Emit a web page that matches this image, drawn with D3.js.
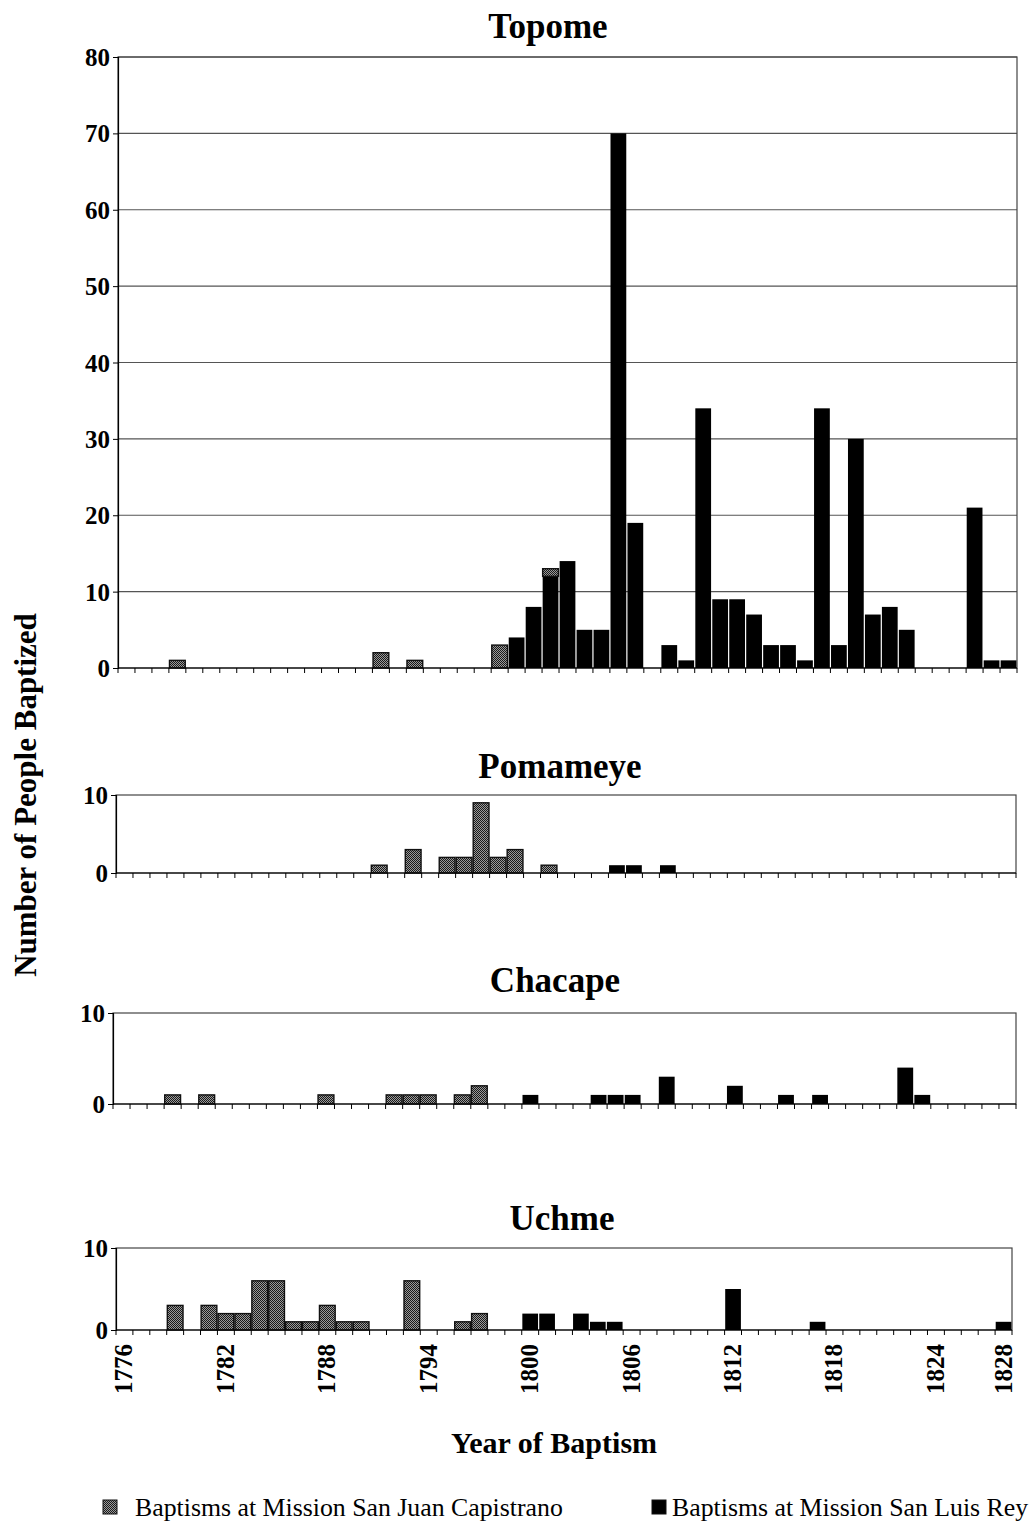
<!DOCTYPE html>
<html>
<head>
<meta charset="utf-8">
<script src="https://cdn.jsdelivr.net/npm/d3@7"></script>
<style>
  body { margin: 0; background: #fff; }
  svg text { font-family: "Liberation Serif", "Times New Roman", serif; fill: #000; }
</style>
</head>
<body>
<svg id="chart" width="1035" height="1525"></svg>
<script>
// years on the category axis
const years = [1776, 1777, 1778, 1779, 1780, 1781, 1782, 1783, 1784, 1785, 1786, 1787, 1788,
    1789, 1790, 1791, 1792, 1793, 1794, 1795, 1796, 1797, 1798, 1799, 1800, 1801, 1802, 1803,
    1804, 1805, 1806, 1807, 1808, 1809, 1810, 1811, 1812, 1813, 1814, 1815, 1816, 1817, 1818,
    1819, 1820, 1821, 1822, 1823, 1824, 1825, 1826, 1827, 1828];
const yearLabels = [1776, 1782, 1788, 1794, 1800, 1806, 1812, 1818, 1824, 1828];

// [year, baptisms] -- SJC = San Juan Capistrano (grey), SLR = San Luis Rey (black)
const topomeSJC = [[1779, 1], [1791, 2], [1793, 1], [1798, 3], [1801, 1]];
const topomeSLR = [[1799, 4], [1800, 8], [1801, 12], [1802, 14], [1803, 5], [1804, 5], [1805, 70],
    [1806, 19], [1808, 3], [1809, 1], [1810, 34], [1811, 9], [1812, 9], [1813, 7], [1814, 3],
    [1815, 3], [1816, 1], [1817, 34], [1818, 3], [1819, 30], [1820, 7], [1821, 8], [1822, 5],
    [1826, 21], [1827, 1], [1828, 1]];

const pomameyeSJC = [[1791, 1], [1793, 3], [1795, 2], [1796, 2], [1797, 9], [1798, 2], [1799, 3], [1801, 1]];
const pomameyeSLR = [[1805, 1], [1806, 1], [1808, 1]];

const chacapeSJC = [[1779, 1], [1781, 1], [1788, 1], [1792, 1], [1793, 1], [1794, 1], [1796, 1], [1797, 2]];
const chacapeSLR = [[1800, 1], [1804, 1], [1805, 1], [1806, 1], [1808, 3], [1812, 2], [1815, 1],
    [1817, 1], [1822, 4], [1823, 1]];

const uchmeSJC = [[1779, 3], [1781, 3], [1782, 2], [1783, 2], [1784, 6], [1785, 6], [1786, 1], [1787, 1],
    [1788, 3], [1789, 1], [1790, 1], [1793, 6], [1796, 1], [1797, 2]];
const uchmeSLR = [[1800, 2], [1801, 2], [1803, 2], [1804, 1], [1805, 1], [1812, 5], [1817, 1], [1828, 1]];

const topomeTicks = [0, 10, 20, 30, 40, 50, 60, 70, 80];
const smallTicks = [0, 10];

const legendLabels = ["Baptisms at Mission San Juan Capistrano", "Baptisms at Mission San Luis Rey"];

// panel layout
const panels = [
    { title: "Topome", sjc: topomeSJC, slr: topomeSLR, max: 80, ticks: topomeTicks, grid: true,
      left: 118, right: 1017, top: 57, bottom: 668, titleX: 548, titleY: 38 },
    { title: "Pomameye", sjc: pomameyeSJC, slr: pomameyeSLR, max: 10, ticks: smallTicks, grid: false,
      left: 116, right: 1016, top: 795, bottom: 873, titleX: 560, titleY: 778 },
    { title: "Chacape", sjc: chacapeSJC, slr: chacapeSLR, max: 10, ticks: smallTicks, grid: false,
      left: 113, right: 1016, top: 1013, bottom: 1104, titleX: 555, titleY: 992 },
    { title: "Uchme", sjc: uchmeSJC, slr: uchmeSLR, max: 10, ticks: smallTicks, grid: false,
      left: 116, right: 1012, top: 1248, bottom: 1330, titleX: 562, titleY: 1230 }
];

const svg = d3.select("#chart");

// stippled grey fill
const defs = svg.append("defs");
const pat = defs.append("pattern")
    .attr("id", "stipple")
    .attr("width", 2).attr("height", 2)
    .attr("patternUnits", "userSpaceOnUse");
pat.append("rect").attr("width", 2).attr("height", 2).attr("fill", "#9a9a9a");
pat.append("rect").attr("width", 1).attr("height", 1).attr("fill", "#1a1a1a");
pat.append("rect").attr("x", 1).attr("y", 1).attr("width", 1).attr("height", 1).attr("fill", "#1a1a1a");

panels.forEach((p, idx) => {

    const x = d3.scaleBand()
        .domain(years)
        .range([p.left, p.right])
        .padding(0);

    const y = d3.scaleLinear()
        .domain([0, p.max])
        .range([p.bottom, p.top]);

    const g = svg.append("g").attr("class", "panel");

    // gridlines (Topome only)
    if (p.grid) {
        g.selectAll("line.grid")
            .data(p.ticks.slice(1))
            .join("line")
            .attr("class", "grid")
            .attr("x1", p.left).attr("x2", p.right)
            .attr("y1", d => y(d)).attr("y2", d => y(d))
            .attr("stroke", "#555")
            .attr("stroke-width", 1.2);
    }

    // frame
    g.append("rect")
        .attr("x", p.left).attr("y", p.top)
        .attr("width", p.right - p.left).attr("height", p.bottom - p.top)
        .attr("fill", "none")
        .attr("stroke", "#444")
        .attr("stroke-width", 1.2);

    // stack: SLR at the bottom, SJC on top
    const slrMap = new Map(p.slr);
    const bars = [];
    p.slr.forEach(([yr, v]) => bars.push({ yr, y0: 0, y1: v, kind: "slr" }));
    p.sjc.forEach(([yr, v]) => {
        const base = slrMap.get(yr) || 0;
        bars.push({ yr, y0: base, y1: base + v, kind: "sjc" });
    });

    g.selectAll("rect.bar")
        .data(bars)
        .join("rect")
        .attr("class", "bar")
        .attr("x", d => x(d.yr) + 0.6)
        .attr("width", x.bandwidth() - 1.2)
        .attr("y", d => y(d.y1))
        .attr("height", d => y(d.y0) - y(d.y1))
        .attr("fill", d => d.kind === "slr" ? "#000" : "url(#stipple)")
        .attr("stroke", d => d.kind === "slr" ? "none" : "#111")
        .attr("stroke-width", 1.4);

    // baseline + small ticks at every band edge
    g.append("line")
        .attr("x1", p.left).attr("x2", p.right)
        .attr("y1", p.bottom).attr("y2", p.bottom)
        .attr("stroke", "#000").attr("stroke-width", 1.2);

    const edges = years.map(d => x(d)).concat([p.right]);
    g.selectAll("line.xtick")
        .data(edges)
        .join("line")
        .attr("class", "xtick")
        .attr("x1", d => d).attr("x2", d => d)
        .attr("y1", p.bottom).attr("y2", p.bottom + 5)
        .attr("stroke", "#000").attr("stroke-width", 1);

    // y axis
    const yAxis = g.append("g")
        .attr("transform", `translate(${p.left},0)`)
        .call(d3.axisLeft(y).tickValues(p.ticks).tickSize(5).tickPadding(3).tickFormat(d3.format("d")));
    yAxis.select(".domain").attr("stroke", "#000").attr("stroke-width", 1.2);
    yAxis.selectAll(".tick line").attr("stroke", "#000");
    yAxis.selectAll(".tick text")
        .attr("font-size", 25)
        .attr("font-weight", "bold")
        .attr("font-family", "Liberation Serif, serif")
        .attr("dy", "0.34em");

    // panel title
    g.append("text")
        .attr("x", p.titleX).attr("y", p.titleY)
        .attr("text-anchor", "middle")
        .attr("font-size", 35)
        .attr("font-weight", "bold")
        .text(p.title);

    // year labels under the last panel
    if (idx === panels.length - 1) {
        g.selectAll("text.xlabel")
            .data(yearLabels)
            .join("text")
            .attr("class", "xlabel")
            .attr("transform", d => `translate(${x(d) + x.bandwidth() / 2 + 8},${p.bottom + 14}) rotate(-90)`)
            .attr("text-anchor", "end")
            .attr("font-size", 25)
            .attr("font-weight", "bold")
            .text(d => d);
    }
});

// axis titles
svg.append("text")
    .attr("transform", "translate(36,795) rotate(-90)")
    .attr("text-anchor", "middle")
    .attr("font-size", 31)
    .attr("font-weight", "bold")
    .text("Number of People Baptized");

svg.append("text")
    .attr("x", 554).attr("y", 1453)
    .attr("text-anchor", "middle")
    .attr("font-size", 30)
    .attr("font-weight", "bold")
    .text("Year of Baptism");

// legend
const legend = svg.append("g").attr("class", "legend");
const legendX = [103, 652];
legend.selectAll("rect")
    .data(legendLabels)
    .join("rect")
    .attr("x", (d, i) => legendX[i])
    .attr("y", 1500)
    .attr("width", 14).attr("height", 14)
    .attr("fill", (d, i) => i === 0 ? "url(#stipple)" : "#000")
    .attr("stroke", "#111")
    .attr("stroke-width", 1);
legend.selectAll("text")
    .data(legendLabels)
    .join("text")
    .attr("x", (d, i) => legendX[i] + (i === 0 ? 32 : 20))
    .attr("y", 1516)
    .attr("font-size", 25.8)
    .text(d => d);
</script>
</body>
</html>
